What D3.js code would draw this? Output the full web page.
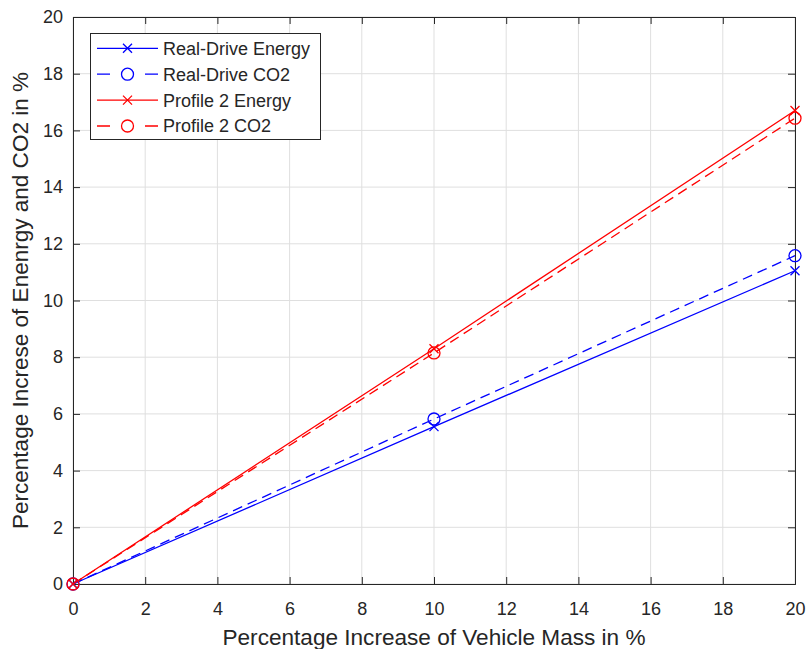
<!DOCTYPE html>
<html><head><meta charset="utf-8">
<script src="https://cdn.jsdelivr.net/npm/d3@7"></script>
<style>body{margin:0;background:#fff;}svg{display:block;font-family:"Liberation Sans",Arial,sans-serif;}</style>
</head><body><svg id="c" width="809" height="649"></svg>
<script>
const xValues = [0, 10, 20];
const realDriveEnergy = [0, 5.55, 11.05];
const realDriveCO2 = [0, 5.82, 11.58];
const profile2Energy = [0, 8.3, 16.7];
const profile2CO2 = [0, 8.15, 16.43];
const xTicks = [0,2,4,6,8,10,12,14,16,18,20];
const yTicks = [0,2,4,6,8,10,12,14,16,18,20];
const seriesNames = ["Real-Drive Energy","Real-Drive CO2","Profile 2 Energy","Profile 2 CO2"];
const series = [
  {name: seriesNames[0], values: realDriveEnergy, color: "#0000ff", dash: null, marker: "x"},
  {name: seriesNames[1], values: realDriveCO2, color: "#0000ff", dash: "10,6", marker: "o"},
  {name: seriesNames[2], values: profile2Energy, color: "#ff0000", dash: null, marker: "x"},
  {name: seriesNames[3], values: profile2CO2, color: "#ff0000", dash: "10,6", marker: "o"}
];
const m = {l:73, r:795, t:17, b:584};
const svg = d3.select("#c");
const x = d3.scaleLinear().domain([0,20]).range([m.l, m.r]);
const y = d3.scaleLinear().domain([0,20]).range([m.b, m.t]);
const axisCol = "#262626";
const font = '"Liberation Sans",Arial,sans-serif';
// grid
svg.append("g").selectAll("line").data(xTicks).join("line")
  .attr("x1", d=>x(d)).attr("x2", d=>x(d)).attr("y1", m.t).attr("y2", m.b)
  .attr("stroke", "#dfdfdf").attr("stroke-width", 1);
svg.append("g").selectAll("line").data(yTicks).join("line")
  .attr("y1", d=>y(d)).attr("y2", d=>y(d)).attr("x1", m.l).attr("x2", m.r)
  .attr("stroke", "#dfdfdf").attr("stroke-width", 1);
// axes
const xa = svg.append("g").attr("transform", `translate(0,${m.b})`)
  .call(d3.axisBottom(x).tickValues(xTicks).tickSize(-7).tickPadding(18).tickFormat(d3.format("d")));
const xt = svg.append("g").attr("transform", `translate(0,${m.t})`)
  .call(d3.axisTop(x).tickValues(xTicks).tickSize(-7).tickFormat(""));
const ya = svg.append("g").attr("transform", `translate(${m.l},0)`)
  .call(d3.axisLeft(y).tickValues(yTicks).tickSize(-7).tickPadding(10).tickFormat(d3.format("d")));
const yr = svg.append("g").attr("transform", `translate(${m.r},0)`)
  .call(d3.axisRight(y).tickValues(yTicks).tickSize(-7).tickFormat(""));
[xa, xt, ya, yr].forEach(g => {
  g.select(".domain").attr("stroke", axisCol).attr("stroke-width", 1);
  g.selectAll(".tick line").attr("stroke", axisCol);
  g.selectAll(".tick text").attr("fill", axisCol).attr("font-size", 18).attr("font-family", font);
});
// lines
const line = d3.line().x((d,i)=>x(xValues[i])).y(d=>y(d));
series.forEach(s => {
  svg.append("path").datum(s.values).attr("d", line).attr("fill", "none")
    .attr("stroke", s.color).attr("stroke-width", 1.3)
    .attr("stroke-dasharray", s.dash);
});
function drawMarker(g, type, cx, cy, color) {
  if (type === "x") {
    const k = 4.5;
    g.append("path").attr("d", `M${cx-k},${cy-k}L${cx+k},${cy+k}M${cx-k},${cy+k}L${cx+k},${cy-k}`)
      .attr("stroke", color).attr("stroke-width", 1.3).attr("fill", "none");
  } else {
    g.append("circle").attr("cx", cx).attr("cy", cy).attr("r", 6)
      .attr("stroke", color).attr("stroke-width", 1.3).attr("fill", "none");
  }
}
series.forEach(s => {
  s.values.forEach((v,i) => drawMarker(svg, s.marker, x(xValues[i]), y(v), s.color));
});
// axis labels
svg.append("text").attr("x", (m.l+m.r)/2).attr("y", 645).attr("text-anchor", "middle")
  .attr("font-size", 22).attr("fill", axisCol).attr("textLength", 423).attr("lengthAdjust", "spacingAndGlyphs")
  .text("Percentage Increase of Vehicle Mass in %");
svg.append("text").attr("transform", `translate(28,${(m.t+m.b)/2}) rotate(-90)`).attr("text-anchor", "middle")
  .attr("font-size", 22).attr("fill", axisCol).attr("textLength", 457).attr("lengthAdjust", "spacingAndGlyphs")
  .text("Percentage Increse of Enenrgy and CO2 in %");
// legend
const lg = svg.append("g");
lg.append("rect").attr("x", 90.5).attr("y", 33.5).attr("width", 230).attr("height", 106)
  .attr("fill", "#fff").attr("stroke", axisCol).attr("stroke-width", 1);
series.forEach((s, i) => {
  const cy = 48.3 + i * 25.9;
  lg.append("line").attr("x1", 97).attr("x2", 158).attr("y1", cy).attr("y2", cy)
    .attr("stroke", s.color).attr("stroke-width", 1.3).attr("stroke-dasharray", s.dash ? "13,35,13" : null);
  drawMarker(lg, s.marker, 127.5, cy, s.color);
  lg.append("text").attr("x", 163).attr("y", cy + 6.4).attr("font-size", 18).attr("fill", axisCol).text(s.name);
});
</script>
</body></html>
